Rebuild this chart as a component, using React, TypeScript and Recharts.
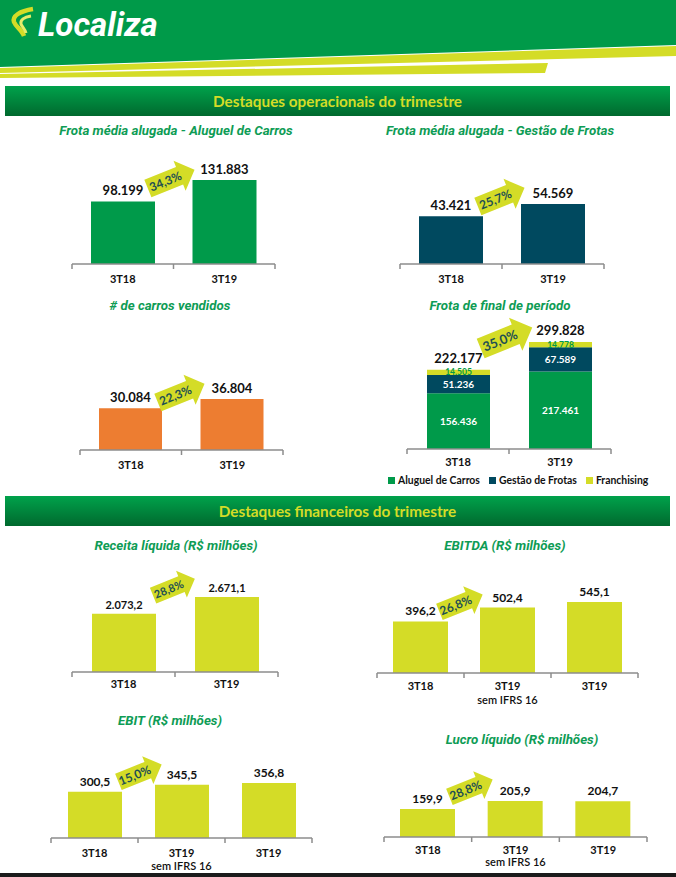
import { Bar, BarChart, LabelList, XAxis, YAxis } from "recharts";

const FONT = "Lato, 'Open Sans', sans-serif";
const ITALIC_FONT = "Roboto, 'Liberation Sans', sans-serif";
const GREEN = "#009A4A";
const TITLE_GREEN = "#0E9C55";
const NAVY = "#00495F";
const ORANGE = "#ED7D31";
const LIME = "#D4DC27";
const ARROW_TEXT = "#1D4F53";
const AXIS = "#8C8C8C";

// categories
const quarters = ["3T18", "3T19"];
const quartersIfrs = ["3T18", "3T19\nsem IFRS 16", "3T19"];

// operational series
const frotaAluguel = [98199, 131883];
const frotaGestao = [43421, 54569];
const carrosVendidos = [30084, 36804];
const fimAluguel = [156436, 217461];
const fimGestao = [51236, 67589];
const fimFranchising = [14505, 14778];

// financial series (R$ milhões)
const receita = [2073.2, 2671.1];
const ebitda = [396.2, 502.4, 545.1];
const ebit = [300.5, 345.5, 356.8];
const lucro = [159.9, 205.9, 204.7];

// growth labels on the arrows
const growth = ["34,3%", "25,7%", "22,3%", "35,0%", "28,8%", "26,8%", "15,0%", "28,8%"];

const legendItems = [
  { name: "Aluguel de Carros", color: GREEN },
  { name: "Gestão de Frotas", color: NAVY },
  { name: "Franchising", color: LIME },
];

const fmt = (v: number, dec = 0) => {
  const [i, d] = Number(v).toFixed(dec).split(".");
  const int = i.replace(/\B(?=(\d{3})+(?!\d))/g, ".");
  return d ? `${int},${d}` : int;
};

const makeTick = (band: number, n: number, size: number, dy: number, gap: number) =>
  function Tick(props: any) {
    const { x, y, payload, index } = props;
    const lines = String(payload.value).split("\n");
    return (
      <g>
        <line x1={x - band / 2} x2={x - band / 2} y1={y} y2={y + 5} stroke={AXIS} strokeWidth={1.5} />
        {index === n - 1 && (
          <line x1={x + band / 2} x2={x + band / 2} y1={y} y2={y + 5} stroke={AXIS} strokeWidth={1.5} />
        )}
        <text x={x} y={y + dy} textAnchor="middle" fontFamily={FONT} fontSize={size} fill="#111">
          {lines.map((l, i) => (
            <tspan key={i} x={x} dy={i === 0 ? 0 : gap} fontWeight={i === 0 ? 700 : 600}>
              {l}
            </tspan>
          ))}
        </text>
      </g>
    );
  };

type MiniProps = {
  cats: string[];
  values: number[];
  color: string;
  axisLeft: number;
  axisRight: number;
  baseline: number;
  maxTop: number;
  barSize: number;
  dec?: number;
  labelSize: number;
  labelOffset?: number;
  tickDy: number;
  tickGap?: number;
};

function MiniBars(p: MiniProps) {
  const pad = 6;
  const mt = 30;
  const mb = 36;
  const plotW = p.axisRight - p.axisLeft;
  const plotH = p.baseline - p.maxTop;
  const data = p.cats.map((c, i) => ({ cat: c, v: p.values[i] }));
  const max = Math.max(...p.values);
  const Tick = makeTick(plotW / p.cats.length, p.cats.length, 11, p.tickDy, p.tickGap ?? 13);
  return (
    <div style={{ position: "absolute", left: p.axisLeft - pad, top: p.maxTop - mt }}>
      <BarChart
        width={plotW + 2 * pad}
        height={mt + plotH + mb}
        data={data}
        margin={{ top: mt, right: pad, left: pad, bottom: 0 }}
      >
        <XAxis
          dataKey="cat"
          height={mb}
          interval={0}
          tickLine={false}
          tickSize={0}
          tickMargin={0}
          axisLine={{ stroke: AXIS, strokeWidth: 1.5 }}
          tick={<Tick />}
        />
        <YAxis hide domain={[0, max]} allowDataOverflow />
        <Bar dataKey="v" fill={p.color} barSize={p.barSize} isAnimationActive={false}>
          <LabelList
            dataKey="v"
            position="top"
            offset={p.labelOffset ?? 6}
            formatter={(v: any) => fmt(v, p.dec ?? 0)}
            fill="#111"
            fontFamily={FONT}
            fontWeight={700}
            fontSize={p.labelSize}
          />
        </Bar>
      </BarChart>
    </div>
  );
}

function FleetStack() {
  const pad = 6;
  const mt = 30;
  const mb = 30;
  const axisLeft = 407;
  const axisRight = 611;
  const baseline = 449;
  const data = quarters.map((c, i) => ({
    cat: c,
    a: fimAluguel[i],
    g: fimGestao[i],
    f: fimFranchising[i],
    total: fimAluguel[i] + fimGestao[i] + fimFranchising[i],
  }));
  const max = Math.max(...data.map((d) => d.total));
  const plotW = axisRight - axisLeft;
  const maxTop = 342;
  const plotH = baseline - maxTop;
  const Tick = makeTick(plotW / 2, 2, 11, 17, 13);
  const inner = { fontFamily: FONT, fontWeight: 700 };
  return (
    <div style={{ position: "absolute", left: axisLeft - pad, top: maxTop - mt }}>
      <BarChart
        width={plotW + 2 * pad}
        height={mt + plotH + mb}
        data={data}
        margin={{ top: mt, right: pad, left: pad, bottom: 0 }}
      >
        <XAxis
          dataKey="cat"
          height={mb}
          interval={0}
          tickLine={false}
          tickSize={0}
          tickMargin={0}
          axisLine={{ stroke: AXIS, strokeWidth: 1.5 }}
          tick={<Tick />}
        />
        <YAxis hide domain={[0, max]} allowDataOverflow />
        <Bar dataKey="a" stackId="s" fill={GREEN} barSize={63} isAnimationActive={false}>
          <LabelList dataKey="a" position="center" formatter={(v: any) => fmt(v)} fill="#fff" fontSize={10} {...inner} />
        </Bar>
        <Bar dataKey="g" stackId="s" fill={NAVY} barSize={63} isAnimationActive={false}>
          <LabelList dataKey="g" position="center" formatter={(v: any) => fmt(v)} fill="#fff" fontSize={10} {...inner} />
        </Bar>
        <Bar dataKey="f" stackId="s" fill={LIME} barSize={63} isAnimationActive={false}>
          <LabelList dataKey="f" position="center" formatter={(v: any) => fmt(v)} fill={GREEN} fontSize={8.5} {...inner} />
          <LabelList dataKey="total" position="top" offset={7} formatter={(v: any) => fmt(v)} fill="#111" fontSize={13} {...inner} />
        </Bar>
      </BarChart>
    </div>
  );
}

// growth arrow: text sits at (cx, cy); body runs back/front of it, head beyond
function Arrow({ cx, cy, label, s = 1, size = 12, angle = -22 }: any) {
  const back = 24 * s;
  const front = 12 * s;
  const bh = 20 * s;
  const hh = 34 * s;
  const hl = 17 * s;
  const pts = [
    [-back, -bh / 2],
    [front, -bh / 2],
    [front, -hh / 2],
    [front + hl, 0],
    [front, hh / 2],
    [front, bh / 2],
    [-back, bh / 2],
  ]
    .map((p) => p.join(","))
    .join(" ");
  return (
    <svg style={{ position: "absolute", left: cx - 50, top: cy - 50, overflow: "visible" }} width={100} height={100}>
      <g transform={`translate(50,50) rotate(${angle})`}>
        <polygon points={pts} fill={LIME} />
        <text x={-4 * s} y={size * 0.36} textAnchor="middle" fontFamily={FONT} fontWeight={700} fontSize={size} fill={ARROW_TEXT}>
          {label}
        </text>
      </g>
    </svg>
  );
}

function Title({ x, y, text }: { x: number; y: number; text: string }) {
  return (
    <div
      style={{
        position: "absolute",
        left: x - 200,
        top: y - 9,
        width: 400,
        textAlign: "center",
        fontFamily: ITALIC_FONT,
        fontStyle: "italic",
        fontWeight: 700,
        fontSize: 13.3,
        lineHeight: "18px",
        color: TITLE_GREEN,
      }}
    >
      {text}
    </div>
  );
}

function Section({ top, text }: { top: number; text: string }) {
  return (
    <div
      style={{
        position: "absolute",
        left: 5,
        top,
        width: 665,
        height: 30,
        background: "linear-gradient(#00A24B, #00692E)",
        color: LIME,
        fontFamily: FONT,
        fontWeight: 700,
        fontSize: 15.3,
        lineHeight: "30px",
        textAlign: "center",
      }}
    >
      {text}
    </div>
  );
}

function Header() {
  return (
    <svg style={{ position: "absolute", left: 0, top: 0 }} width={676} height={82}>
      <polygon points="0,0 676,0 676,45 0,67" fill="#009A49" />
      <polygon points="0,68 676,46 676,56 0,73" fill={LIME} />
      <polygon points="0,74 548,63 545,73 0,78" fill={LIME} />
      <path d="M33,9 C20,11 12,16 14,22 C16,27 22,30 24,36" stroke={LIME} strokeWidth={4.5} fill="none" />
      <path d="M31,16 C24,17 20,20 21,24 C22,27 25,29 26,33" stroke="#E6EC6A" strokeWidth={3} fill="none" />
      <text x={38} y={36} fontFamily={ITALIC_FONT} fontStyle="italic" fontWeight={700} fontSize={33} fill="#fff">
        Localiza
      </text>
    </svg>
  );
}

export default function App() {
  return (
    <div style={{ position: "absolute", left: 0, top: 0, width: 676, height: 877, background: "#fff", overflow: "hidden" }}>
      <Header />
      <Section top={86} text="Destaques operacionais do trimestre" />

      <Title x={176} y={131} text="Frota média alugada - Aluguel de Carros" />
      <MiniBars cats={quarters} values={frotaAluguel} color={GREEN} axisLeft={72} axisRight={275} baseline={264} maxTop={180} barSize={64} labelSize={13} tickDy={19} />
      <Arrow cx={169} cy={180} label={growth[0]} s={0.95} />

      <Title x={500} y={131} text="Frota média alugada - Gestão de Frotas" />
      <MiniBars cats={quarters} values={frotaGestao} color={NAVY} axisLeft={400} axisRight={604} baseline={264} maxTop={204} barSize={64} labelSize={13} tickDy={19} />
      <Arrow cx={499} cy={198} label={growth[1]} s={0.95} />

      <Title x={170} y={306} text="# de carros vendidos" />
      <MiniBars cats={quarters} values={carrosVendidos} color={ORANGE} axisLeft={80} axisRight={283} baseline={450} maxTop={399} barSize={63} labelSize={13} tickDy={19} />
      <Arrow cx={179} cy={394} label={growth[2]} s={0.95} />

      <Title x={500} y={306} text="Frota de final de período" />
      <FleetStack />
      <Arrow cx={504} cy={339} label={growth[3]} s={1.05} size={13} />
      <div style={{ position: "absolute", left: 388, top: 473, display: "flex", gap: 9, fontFamily: FONT, fontWeight: 700, fontSize: 10.4, color: "#111", lineHeight: "14px" }}>
        {legendItems.map((l) => (
          <div key={l.name} style={{ display: "flex", alignItems: "center", gap: 3 }}>
            <span style={{ width: 7, height: 7, background: l.color, display: "inline-block" }} />
            {l.name}
          </div>
        ))}
      </div>

      <Section top={496} text="Destaques financeiros do trimestre" />

      <Title x={176} y={546} text="Receita líquida (R$ milhões)" />
      <MiniBars cats={quarters} values={receita} color={LIME} axisLeft={72} axisRight={278} baseline={672} maxTop={597} barSize={64} dec={1} labelSize={11} labelOffset={5} tickDy={16} />
      <Arrow cx={172} cy={588} label={growth[4]} s={0.85} size={11} />

      <Title x={505} y={546} text="EBITDA (R$ milhões)" />
      <MiniBars cats={quartersIfrs} values={ebitda} color={LIME} axisLeft={377} axisRight={638} baseline={673} maxTop={602} barSize={55} dec={1} labelSize={12} labelOffset={6} tickDy={17} tickGap={14} />
      <Arrow cx={459} cy={604} label={growth[5]} s={0.88} size={12} />

      <Title x={170} y={721} text="EBIT (R$ milhões)" />
      <MiniBars cats={quartersIfrs} values={ebit} color={LIME} axisLeft={51} axisRight={312} baseline={838} maxTop={783} barSize={54} dec={1} labelSize={12} labelOffset={6} tickDy={19} tickGap={13} />
      <Arrow cx={138} cy={774} label={growth[6]} s={0.88} size={12} />

      <Title x={522} y={740} text="Lucro líquido (R$ milhões)" />
      <MiniBars cats={quartersIfrs} values={lucro} color={LIME} axisLeft={384} axisRight={647} baseline={837} maxTop={801} barSize={55} dec={1} labelSize={12} labelOffset={6} tickDy={17} tickGap={12} />
      <Arrow cx={469} cy={789} label={growth[7]} s={0.88} size={12} />

      <div style={{ position: "absolute", left: 0, top: 873, width: 676, height: 4, background: "#1B1B1B" }} />
    </div>
  );
}
